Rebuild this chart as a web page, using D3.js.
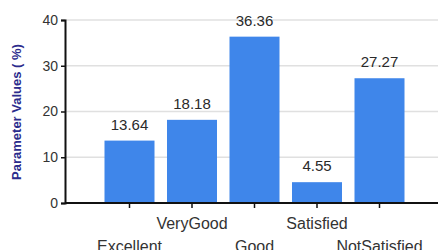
<!DOCTYPE html>
<html>
<head>
<meta charset="utf-8">
<script src="https://cdn.jsdelivr.net/npm/d3@7"></script>
<style>
  body { margin: 0; background: #fff; }
  text { font-family: "Liberation Sans", Arial, sans-serif; }
</style>
</head>
<body>
<div id="chart"></div>
<script>
var categories = ["Excellent", "VeryGood", "Good", "Satisfied", "NotSatisfied"];
var values = [13.64, 18.18, 36.36, 4.55, 27.27];
var y_ticks = [0, 10, 20, 30, 40];

var width = 438, height = 250;
var left = 65, bottom = 203, top_y = 20;

var svg = d3.select("#chart").append("svg")
    .attr("width", width)
    .attr("height", height);

var x = d3.scaleBand()
    .domain(categories)
    .range([left + 2, 442])
    .paddingInner(0.2)
    .paddingOuter(0.6);

var y = d3.scaleLinear()
    .domain([0, 40])
    .range([bottom, top_y]);

// grid
svg.append("g").selectAll("line")
    .data(y_ticks.filter(function(d) { return d > 0; }))
    .enter().append("line")
    .attr("x1", left).attr("x2", width)
    .attr("y1", function(d) { return y(d); })
    .attr("y2", function(d) { return y(d); })
    .attr("stroke", "#e0e0e0")
    .attr("stroke-width", 1.5);

// bars
svg.append("g").selectAll("rect")
    .data(values)
    .enter().append("rect")
    .attr("x", function(d, i) { return x(categories[i]); })
    .attr("y", function(d) { return y(d); })
    .attr("width", x.bandwidth())
    .attr("height", function(d) { return y(0) - y(d); })
    .attr("fill", "#3f86ea");

// value labels
svg.append("g").selectAll("text")
    .data(values)
    .enter().append("text")
    .attr("x", function(d, i) { return x(categories[i]) + x.bandwidth() / 2; })
    .attr("y", function(d) { return y(d) - 11; })
    .attr("text-anchor", "middle")
    .attr("font-size", 15)
    .attr("fill", "#2a2a2a")
    .text(function(d) { return d.toFixed(2); });

// y axis
var y_axis = svg.append("g")
    .attr("transform", "translate(" + left + ",0)")
    .call(d3.axisLeft(y).tickValues(y_ticks).tickSize(4).tickPadding(3));
y_axis.select(".domain").attr("stroke", "#111").attr("stroke-width", 2);
y_axis.selectAll(".tick line").attr("stroke", "#111").attr("stroke-width", 1.5);
y_axis.selectAll(".tick text")
    .attr("font-size", 14)
    .attr("fill", "#333")
    .style("font-family", "'Liberation Sans', Arial, sans-serif");

// x axis, labels staggered on two rows
var x_axis = svg.append("g")
    .attr("transform", "translate(0," + bottom + ")")
    .call(d3.axisBottom(x).tickSize(5).tickSizeOuter(0));
x_axis.select(".domain").attr("d", "M" + left + ",0H" + width)
    .attr("stroke", "#111").attr("stroke-width", 2);
x_axis.selectAll(".tick line").attr("stroke", "#111").attr("stroke-width", 1.5);
x_axis.selectAll(".tick text")
    .attr("font-size", 16)
    .attr("fill", "#333")
    .attr("dy", null)
    .attr("y", function(d, i) { return i % 2 === 1 ? 26 : 49; })
    .style("font-family", "'Liberation Sans', Arial, sans-serif");

// y title
svg.append("text")
    .attr("transform", "translate(21,112) rotate(-90)")
    .attr("text-anchor", "middle")
    .attr("font-size", 13)
    .attr("font-weight", "bold")
    .attr("fill", "#2b2b8c")
    .text("Parameter Values ( %)");
</script>
</body>
</html>
